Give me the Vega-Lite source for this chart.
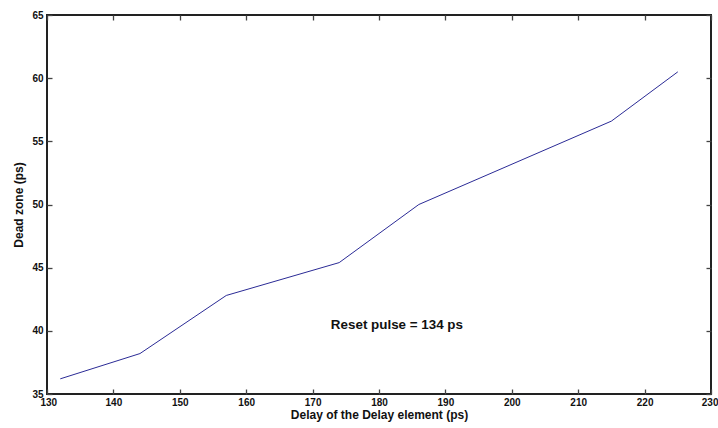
{
  "$schema": "https://vega.github.io/schema/vega-lite/v6.json",
  "autosize": "none",
  "width": 664,
  "height": 379,
  "padding": {"left": 47, "top": 15, "right": 7, "bottom": 34},
  "background": "white",
  "config": {
    "view": {"stroke": "#222222", "strokeWidth": 2},
    "font": "Liberation Sans",
    "axis": {
      "grid": false,
      "domain": false,
      "ticks": true,
      "zindex": 1,
      "tickColor": "#444444",
      "tickSize": 5,
      "offset": -5,
      "tickWidth": 1.3,
      "labelFont": "Liberation Sans",
      "labelFontWeight": "bold",
      "labelFontSize": 10,
      "labelColor": "#111111",
      "titleFont": "Liberation Sans",
      "titleFontWeight": "bold",
      "titleFontSize": 12,
      "titleColor": "#111111"
    }
  },
  "data": {
    "values": [
      {"delay": 132, "dead": 36.2},
      {"delay": 144, "dead": 38.2},
      {"delay": 157, "dead": 42.8},
      {"delay": 174, "dead": 45.4},
      {"delay": 186, "dead": 50.0},
      {"delay": 215, "dead": 56.6},
      {"delay": 225, "dead": 60.5}
    ]
  },
  "layer": [
    {
      "mark": {"type": "line", "color": "#2b2b96", "strokeWidth": 1},
      "encoding": {
        "x": {"field": "delay", "type": "quantitative", "scale": {"domain": [130, 230], "nice": false},
              "axis": {"orient": "bottom", "title": "Delay of the Delay element (ps)", "values": [130,140,150,160,170,180,190,200,210,220,230], "labelFlush": true, "labelFlushOffset": 7, "labelPadding": 3, "titlePadding": 2}},
        "y": {"field": "dead", "type": "quantitative", "scale": {"domain": [35, 65], "nice": false, "zero": false},
              "axis": {"orient": "left", "title": "Dead zone (ps)", "values": [35,40,45,50,55,60,65], "labelFlush": false, "labelPadding": 4, "titlePadding": 6}}
      }
    },
    {
      "mark": {"type": "line", "opacity": 0},
      "encoding": {
        "x": {"field": "delay", "type": "quantitative", "axis": {"orient": "top", "title": null, "labels": false, "values": [130,140,150,160,170,180,190,200,210,220,230]}},
        "y": {"field": "dead", "type": "quantitative", "axis": {"orient": "right", "title": null, "labels": false, "values": [35,40,45,50,55,60,65]}}
      }
    },
    {
      "data": {"values": [{"delay": 182.7, "dead": 40.5, "label": "Reset pulse = 134 ps"}]},
      "mark": {"type": "text", "font": "Liberation Sans", "fontWeight": "bold", "fontSize": 13.4, "color": "#111111", "align": "center", "baseline": "middle"},
      "encoding": {
        "x": {"field": "delay", "type": "quantitative", "axis": null},
        "y": {"field": "dead", "type": "quantitative", "axis": null},
        "text": {"field": "label"}
      }
    }
  ],
  "resolve": {"axis": {"x": "independent", "y": "independent"}}
}
